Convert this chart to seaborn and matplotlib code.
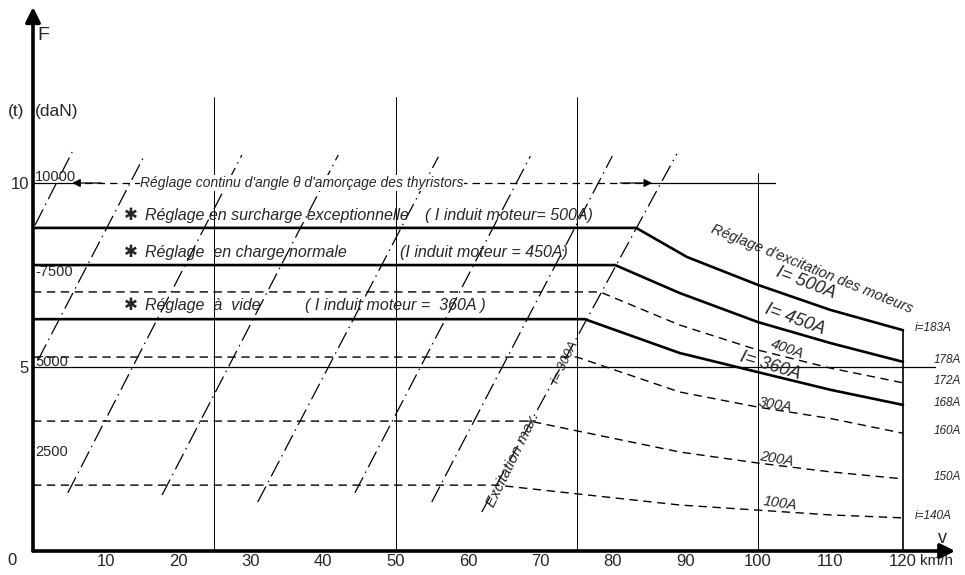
import matplotlib
matplotlib.use("Agg")
import matplotlib.pyplot as plt
import seaborn as sns
import pandas as pd

# ---------------- data ----------------
speed_ticks = [10, 20, 30, 40, 50, 60, 70, 80, 90, 100, 110, 120]
force_ticks = [5, 10]
daN_labels = ["10000", "-7500", "5000", "2500"]
daN_levels = [10.16, 7.58, 5.14, 2.69]

curve_names = ["500A", "450A", "400A", "360A", "300A", "200A", "100A"]
field_currents = ["i=183A", "178A", "172A", "168A", "160A", "150A", "i=140A"]
curve_solid = [True, True, False, True, False, False, False]

v_500 = [0, 83.2, 90.2, 100, 110, 120]
F_500 = [8.78, 8.78, 7.99, 7.23, 6.55, 6.00]
v_450 = [0, 80.3, 89.2, 100, 110, 120]
F_450 = [7.77, 7.77, 7.01, 6.22, 5.65, 5.14]
v_400 = [0, 78.2, 89.2, 100, 110, 120]
F_400 = [7.04, 7.04, 6.14, 5.46, 4.97, 4.57]
v_360 = [0, 76.1, 89.2, 100, 110, 120]
F_360 = [6.30, 6.30, 5.38, 4.86, 4.38, 3.97]
v_300 = [0, 75.0, 89.2, 100, 110, 120]
F_300 = [5.27, 5.27, 4.32, 3.91, 3.60, 3.20]
v_200 = [0, 68.5, 89.2, 100, 110, 120]
F_200 = [3.53, 3.53, 2.69, 2.39, 2.15, 1.96]
v_100 = [0, 64.0, 89.2, 100, 110, 120]
F_100 = [1.79, 1.79, 1.25, 1.11, 0.98, 0.90]

diag_v_top = [5.4, 15.4, 28.8, 42.1, 55.9, 68.6, 79.9, 88.8]
diag_F_top = [10.84, 10.76, 10.76, 10.76, 10.71, 10.73, 10.73, 10.79]
diag_v_bot = [0.3, 0.7, 4.8, 17.8, 31.0, 44.4, 55.0, 61.9]
diag_F_bot = [8.86, 5.19, 1.58, 1.52, 1.33, 1.58, 1.33, 1.06]

grid_v = [25, 50, 75, 100, 120]
grid_top = [12.34, 12.34, 12.34, 10.27, 6.0]

# ---------------- figure ----------------
sns.set_style("white")
plt.rcParams["font.family"] = ["Liberation Sans", "DejaVu Sans"]

fig = plt.figure(figsize=(9.65, 5.75), dpi=100)
XMAX, YMAX = 128.0, 14.8
ax = fig.add_axes([33 / 965, 24 / 575, XMAX * 7.25 / 965, YMAX * 36.8 / 575])
ax.set_xlim(0, XMAX)
ax.set_ylim(0, YMAX)
for s in ax.spines.values():
    s.set_visible(False)

ax.set_xticks(speed_ticks)
ax.set_xticklabels([str(t) for t in speed_ticks])
ax.set_yticks(force_ticks)
ax.set_yticklabels([str(t) for t in force_ticks])
ax.tick_params(length=0, labelsize=12, pad=2)
ax.tick_params(axis="y", pad=3)

K = "black"

# axes with arrows
ax.annotate("", xy=(127.2, 0), xytext=(0, 0), annotation_clip=False,
            arrowprops=dict(arrowstyle="-|>", lw=2.6, color=K, mutation_scale=22,
                            shrinkA=0, shrinkB=0))
ax.annotate("", xy=(0, 14.78), xytext=(0, 0), annotation_clip=False,
            arrowprops=dict(arrowstyle="-|>", lw=2.6, color=K, mutation_scale=22,
                            shrinkA=0, shrinkB=0))

# thin grid lines
for gv, gt in zip(grid_v, grid_top):
    ax.plot([gv, gv], [0, gt], color=K, lw=0.7 if gv != 120 else 1.2)
ax.plot([0, 124.4], [5, 5], color=K, lw=0.9)

# 10 t arrow line (thyristor control range)
ax.plot([0, 5.4], [10, 10], color=K, lw=0.9)
ax.plot([5.4, 85.4], [10, 10], color=K, lw=0.9, dashes=(6, 4))
ax.plot([85.4, 102.3], [10, 10], color=K, lw=0.9)
ax.annotate("", xy=(5.4, 10), xytext=(9.5, 10),
            arrowprops=dict(arrowstyle="-|>", color=K, lw=0.9, mutation_scale=12,
                            shrinkA=0, shrinkB=0))
ax.annotate("", xy=(85.4, 10), xytext=(81.0, 10),
            arrowprops=dict(arrowstyle="-|>", color=K, lw=0.9, mutation_scale=12,
                            shrinkA=0, shrinkB=0))

# diagonal dash-dot lines
for vt, ft, vb, fb in zip(diag_v_top, diag_F_top, diag_v_bot, diag_F_bot):
    ax.plot([vb, vt], [fb, ft], color=K, lw=0.9, dashes=(14, 4, 1.2, 4))

# tractive effort curves
curves_v = [v_500, v_450, v_400, v_360, v_300, v_200, v_100]
curves_F = [F_500, F_450, F_400, F_360, F_300, F_200, F_100]
for name, vv, ff, solid in zip(curve_names, curves_v, curves_F, curve_solid):
    df = pd.DataFrame({"v": vv, "F": ff})
    if solid:
        sns.lineplot(data=df, x="v", y="F", ax=ax, color=K, lw=1.9,
                     sort=False, estimator=None)
    else:
        sns.lineplot(data=df, x="v", y="F", ax=ax, color=K, lw=1.0,
                     sort=False, estimator=None, dashes=False,
                     linestyle=(0, (6, 4)))
ax.set_xlabel("")
ax.set_ylabel("")

# right side field-current labels
for lab, ff in zip(field_currents, curves_F):
    xx = 121.6 if lab.startswith("i") else 124.3
    ax.text(xx, ff[-1] + 0.05, lab, fontsize=8.5, ha="left", va="center",
            style="italic")

# daN labels
for lab, lev in zip(daN_labels, daN_levels):
    ax.text(0.3, lev, lab, fontsize=10.5, ha="left", va="center")

# axis texts
ax.text(-2.9, -0.27, "0", fontsize=12, ha="center", va="center", clip_on=False)
ax.text(122.3, -0.27, "km/h", fontsize=11, ha="left", va="center", clip_on=False)
ax.text(125.4, 0.35, "v", fontsize=13, ha="center", va="center")
ax.text(1.4, 14.0, "F", fontsize=14, ha="center", va="center")
ax.text(-2.4, 11.93, "(t)", fontsize=12.5, ha="center", va="center", clip_on=False)
ax.text(3.3, 11.93, "(daN)", fontsize=12.5, ha="center", va="center")

IT = dict(style="italic", ha="left", va="center")
star_font = ["DejaVu Sans"]
for yy in (9.13, 8.12, 6.68):
    ax.text(12.5, yy, "✱", fontsize=12, fontweight="bold", ha="left",
            va="center", family=star_font)
ax.text(15.4, 9.13, "Réglage en surcharge exceptionnelle", fontsize=11.5, **IT)
ax.text(54.1, 9.13, "( I induit moteur= 500A)", fontsize=11.5, **IT)
ax.text(15.4, 8.12, "Réglage  en charge normale", fontsize=11.5, **IT)
ax.text(50.6, 8.12, "(I induit moteur = 450A)", fontsize=11.5, **IT)
ax.text(15.4, 6.68, "Réglage  à  vide", fontsize=11.5, **IT)
ax.text(37.5, 6.68, "( I induit moteur =  360A )", fontsize=11.5, **IT)

ax.text(14.8, 10.0, "Réglage continu d'angle θ d'amorçage des thyristors",
        fontsize=10, style="italic", ha="left", va="center",
        bbox=dict(facecolor="white", edgecolor="none", pad=0.5))

# curve labels
ax.text(106.6, 7.27, "I= 500A", fontsize=13, rotation=-21, ha="center", va="center", style="italic")
ax.text(105.1, 6.30, "I= 450A", fontsize=13, rotation=-20, ha="center", va="center", style="italic")
ax.text(104.0, 5.50, "400A", fontsize=10.5, rotation=-20, ha="center", va="center", style="italic")
ax.text(101.7, 5.02, "I= 360A", fontsize=13, rotation=-17, ha="center", va="center", style="italic")
ax.text(102.3, 3.98, "300A", fontsize=10.5, rotation=-10, ha="center", va="center", style="italic")
ax.text(102.6, 2.50, "200A", fontsize=10.5, rotation=-10, ha="center", va="center", style="italic")
ax.text(103.0, 1.30, "100A", fontsize=10.5, rotation=-8, ha="center", va="center", style="italic")

ax.text(107.4, 7.66, "Réglage d'excitation des moteurs", fontsize=10.5, rotation=-22,
        ha="center", va="center", style="italic")
ax.text(66.2, 2.47, "Excitation max.", fontsize=11, rotation=64,
        ha="center", va="center", style="italic")
ax.text(73.4, 5.14, "i= 300A", fontsize=9.5, rotation=64,
        ha="center", va="center", style="italic")

fig.savefig("out.png", dpi=100, facecolor="white")
